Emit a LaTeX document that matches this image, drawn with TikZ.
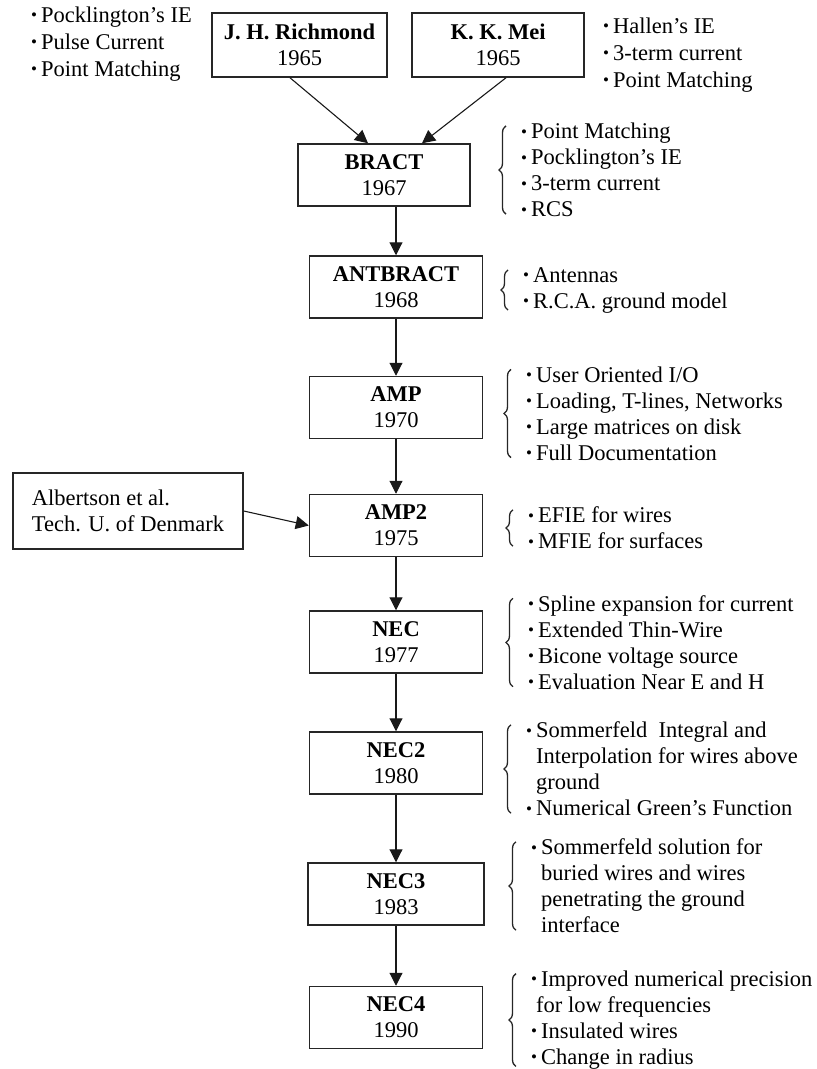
\documentclass[tikz,border=0pt]{standalone}
\usepackage{fontspec}
\setmainfont{Liberation Serif}
\usetikzlibrary{arrows.meta,calc,decorations.pathreplacing}

\newcommand{\bul}{\raisebox{1.5pt}{\fontsize{17}{17}\selectfont\textbullet}\hspace{4pt}}
\newcommand{\indt}{\hphantom{\bul}}

\begin{document}
\begin{tikzpicture}[x=1pt,y=-1pt,
		every node/.style={font=\fontsize{22.5}{26}\selectfont, text=black},
		box/.style={draw=black!85, line width=1.5pt, inner sep=0pt, align=center, minimum width=173pt, minimum height=62pt},
		listtext/.style={anchor=west, inner sep=0pt, align=left},
		arr/.style={-{Triangle[width=13pt,length=13pt]}, line width=1.1pt, black!90},
		brc/.style={decorate, decoration={brace, amplitude=7pt}, line width=1.3pt, black!85}]
		
		\useasboundingbox (0,0) rectangle (817,1069);
		
		\def\col{396}
		
		% top sources
		\node[box, minimum width=175pt, minimum height=64pt] (richmond) at (299.5,45) {\textbf{J. H. Richmond}\\1965};
		\node[box, minimum width=172pt, minimum height=64pt] (mei) at (498,45) {\textbf{K. K. Mei}\\1965};
		
		% main column
		\node[box, minimum width=172pt] (bract) at (384,175) {\textbf{BRACT}\\1967};
		\node[box] (antbract) at (\col,287) {\textbf{ANTBRACT}\\1968};
		\node[box] (amp) at (\col,407.5) {\textbf{AMP}\\1970};
		\node[box] (amptwo) at (\col,525.5) {\textbf{AMP2}\\1975};
		\node[box] (nec) at (\col,642) {\textbf{NEC}\\1977};
		\node[box] (nectwo) at (\col,763) {\textbf{NEC2}\\1980};
		\node[box, minimum width=176pt] (necthree) at (\col,894) {\textbf{NEC3}\\1983};
		\node[box] (necfour) at (\col,1017.5) {\textbf{NEC4}\\1990};
		
		\node[box, minimum width=230pt, minimum height=76pt, align=left] (albertson) at (128,511) {Albertson et al.\\Tech. U. of Denmark};
		
		% arrows
		\draw[arr] ([xshift=-9.5pt]richmond.south) -- ([xshift=-16pt]bract.north);
		\draw[arr] ([xshift=8pt]mei.south) -- ([xshift=38pt]bract.north);
		\draw[arr] (bract.south -| antbract.north) -- (antbract.north);
		\draw[arr] (antbract) -- (amp);
		\draw[arr] (amp) -- (amptwo);
		\draw[arr] (amptwo) -- (nec);
		\draw[arr] (nec) -- (nectwo);
		\draw[arr] (nectwo) -- (necthree);
		\draw[arr] (necthree) -- (necfour);
		\draw[arr] (albertson.east) -- (amptwo.west);
		
		% feature lists
		\node[listtext, font=\fontsize{22.5}{27}\selectfont] (richlist) at (31,44) {\bul Pocklington’s IE\\\bul Pulse Current\\\bul Point Matching};
		\node[listtext, font=\fontsize{22.5}{27}\selectfont] (meilist) at (603,55) {\bul Hallen’s IE\\\bul 3-term current\\\bul Point Matching};
		
		\node[listtext] (bractlist) at (521,170) {\bul Point Matching\\\bul Pocklington’s IE\\\bul 3-term current\\\bul RCS};
		\node[listtext] (antbractlist) at (523,290) {\bul Antennas\\\bul R.C.A. ground model};
		\node[listtext] (amplist) at (526,413.5) {\bul User Oriented I/O\\\bul Loading, T-lines, Networks\\\bul Large matrices on disk\\\bul Full Documentation};
		\node[listtext] (amptwolist) at (528,528) {\bul EFIE for wires\\\bul MFIE for surfaces};
		\node[listtext] (neclist) at (528,642.5) {\bul Spline expansion for current\\\bul Extended Thin-Wire\\\bul Bicone voltage source\\\bul Evaluation Near E and H};
		\node[listtext] (nectwolist) at (526,769) {\bul Sommerfeld\ \ Integral and\\\indt Interpolation for wires above\\\indt ground\\\bul Numerical Green’s Function};
		\node[listtext] (necthreelist) at (531,886) {\bul Sommerfeld solution for\\\indt buried wires and wires\\\indt penetrating the ground\\\indt interface};
		\node[listtext] (necfourlist) at (531,1020) {\bul Improved numerical precision\\\hspace{5pt}for low frequencies\\\bul Insulated wires\\\bul Change in radius};
		
		\foreach \lst in {bractlist,antbractlist,amplist,amptwolist,neclist,nectwolist,necthreelist,necfourlist}
		\draw[brc] ($(\lst.south west)+(-15pt,3pt)$) -- ($(\lst.north west)+(-15pt,-3pt)$);
	\end{tikzpicture}
\end{document}
